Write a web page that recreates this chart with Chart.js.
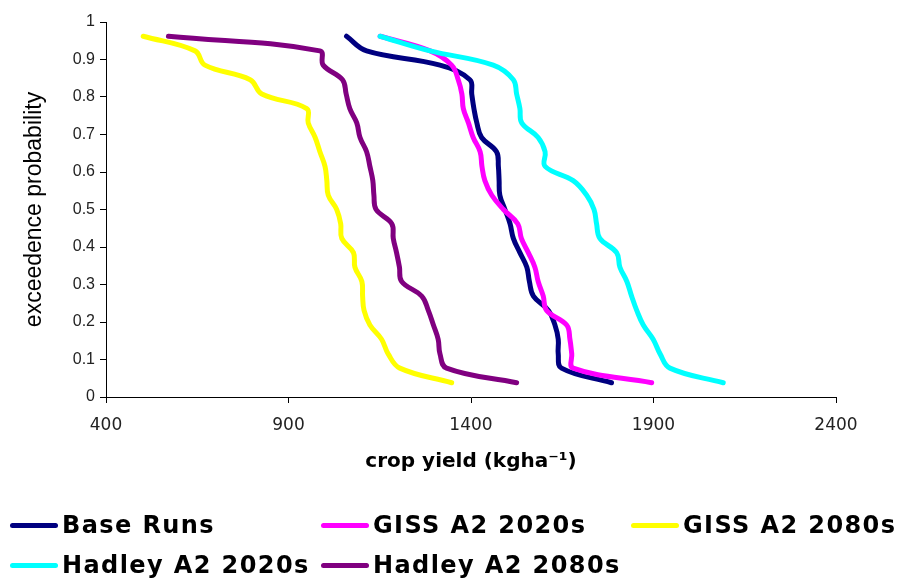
<!DOCTYPE html>
<html>
<head>
<meta charset="utf-8">
<script src="https://cdn.jsdelivr.net/npm/chart.js@4/dist/chart.umd.min.js"></script>
<style>
  html, body { margin: 0; padding: 0; background: #fff; }
  #wrap { position: relative; width: 908px; height: 578px; overflow: hidden; }
  #c { position: absolute; left: 0; top: 0; }
  #legend {
    position: absolute; left: 0; top: 0; width: 908px; height: 578px; pointer-events: none;
    font-family: "DejaVu Sans", sans-serif; font-weight: bold; font-size: 24px;
    letter-spacing: 1.4px; color: #000;
  }
  .item { position: absolute; height: 40px; display: flex; align-items: center; white-space: nowrap; }
  .swatch { width: 48px; height: 5px; border-radius: 3px; margin-right: 4px; flex: none; }
</style>
</head>
<body>
<div id="wrap">
  <canvas id="c" width="908" height="578"></canvas>
  <div id="legend"></div>
</div>
<script>
// Exceedance probability of each ranked simulated year (25 years)
const probability = [0.962, 0.923, 0.885, 0.846, 0.808, 0.769, 0.731, 0.692, 0.654, 0.615,
                     0.577, 0.538, 0.500, 0.462, 0.423, 0.385, 0.346, 0.308, 0.269, 0.231,
                     0.192, 0.154, 0.115, 0.077, 0.038];

// Crop yield (kg/ha) for each scenario, ranked to match the probabilities above
const baseRuns    = [1059, 1114, 1315, 1397, 1402, 1408, 1416, 1429, 1470, 1475, 1477, 1479, 1493,
                     1507, 1516, 1534, 1553, 1560, 1571, 1612, 1630, 1639, 1639, 1648, 1785];
const giss2020s   = [1151, 1288, 1347, 1365, 1375, 1379, 1393, 1406, 1425, 1430, 1438, 1457, 1489,
                     1528, 1538, 1557, 1575, 1584, 1598, 1607, 1662, 1671, 1676, 1680, 1895];
const giss2080s   = [502, 644, 671, 795, 827, 950, 954, 973, 986, 1000, 1005, 1009, 1032,
                     1043, 1046, 1078, 1082, 1101, 1103, 1107, 1123, 1155, 1173, 1205, 1347];
const hadley2020s = [1151, 1288, 1461, 1516, 1525, 1534, 1539, 1584, 1603, 1603, 1680, 1717, 1737,
                     1744, 1753, 1799, 1808, 1827, 1840, 1854, 1872, 1899, 1918, 1945, 2091];
const hadley2080s = [571, 986, 995, 1048, 1058, 1068, 1087, 1096, 1114, 1123, 1131, 1134, 1140,
                     1183, 1187, 1196, 1204, 1210, 1265, 1283, 1297, 1310, 1315, 1333, 1525];

const seriesNames  = ['Base Runs', 'GISS A2 2020s', 'GISS A2 2080s', 'Hadley A2 2020s', 'Hadley A2 2080s'];
const seriesColors = ['#000080', '#FF00FF', '#FFFF00', '#00FFFF', '#800080'];
const seriesValues = [baseRuns, giss2020s, giss2080s, hadley2020s, hadley2080s];

const xTicks = [400, 900, 1400, 1900, 2400];
const yTicks = [0, 0.1, 0.2, 0.3, 0.4, 0.5, 0.6, 0.7, 0.8, 0.9, 1];

// Later series are painted over earlier ones
const datasets = seriesValues.map((vals, i) => ({
  label: seriesNames[i],
  data: vals.map((x, j) => ({ x: x, y: probability[j] })),
  order: seriesValues.length - i,
  borderColor: seriesColors[i],
  backgroundColor: seriesColors[i],
  borderWidth: 5,
  pointRadius: 0,
  showLine: true,
  fill: false,
  tension: 0.4,
  borderCapStyle: 'round',
  borderJoinStyle: 'round'
}));

new Chart(document.getElementById('c'), {
  type: 'scatter',
  data: { datasets: datasets },
  options: {
    responsive: false,
    animation: false,
    devicePixelRatio: 1,
    layout: { padding: { top: 22, right: 72, bottom: 71, left: 0 } },
    plugins: { legend: { display: false }, tooltip: { enabled: false } },
    scales: {
      x: {
        type: 'linear', min: 400, max: 2400,
        afterBuildTicks: s => { s.ticks = xTicks.map(v => ({ value: v })); },
        afterFit: s => { s.height = 110; },
        grid: { drawOnChartArea: false, drawTicks: true, tickLength: 6, color: '#000' },
        border: { display: true, color: '#000', width: 1 },
        ticks: {
          color: '#222', padding: 12, maxRotation: 0, autoSkip: false,
          font: { family: '"DejaVu Sans", sans-serif', size: 17 },
          callback: v => String(v)
        },
        title: {
          display: true, text: 'crop yield (kgha\u207B\u00B9)', color: '#000',
          font: { family: '"DejaVu Sans", sans-serif', size: 20, weight: 'bold' },
          padding: { top: 0, bottom: 33 }
        }
      },
      y: {
        type: 'linear', min: 0, max: 1,
        afterBuildTicks: s => { s.ticks = yTicks.map(v => ({ value: v })); },
        afterFit: s => { s.width = 106; },
        grid: { drawOnChartArea: false, drawTicks: true, tickLength: 6, color: '#000' },
        border: { display: true, color: '#000', width: 1 },
        ticks: {
          color: '#222', padding: 5, autoSkip: false,
          font: { family: '"Liberation Sans", Arial, sans-serif', size: 16 },
          callback: v => String(Math.round(v * 10) / 10)
        },
        title: {
          display: true, text: 'exceedence probability', color: '#000',
          font: { family: '"Liberation Sans", Arial, sans-serif', size: 23 },
          padding: { top: 21, bottom: 0 }
        }
      }
    }
  }
});

// Legend laid out in three fixed columns beneath the plot
const legendSlots = [[10, 505], [321, 505], [631, 505], [10, 545], [321, 545]];
const legend = document.getElementById('legend');
seriesNames.forEach((name, i) => {
  const item = document.createElement('div');
  item.className = 'item';
  item.style.left = legendSlots[i][0] + 'px';
  item.style.top = legendSlots[i][1] + 'px';
  const sw = document.createElement('span');
  sw.className = 'swatch';
  sw.style.background = seriesColors[i];
  const label = document.createElement('span');
  label.textContent = name;
  item.appendChild(sw);
  item.appendChild(label);
  legend.appendChild(item);
});
</script>
</body>
</html>
